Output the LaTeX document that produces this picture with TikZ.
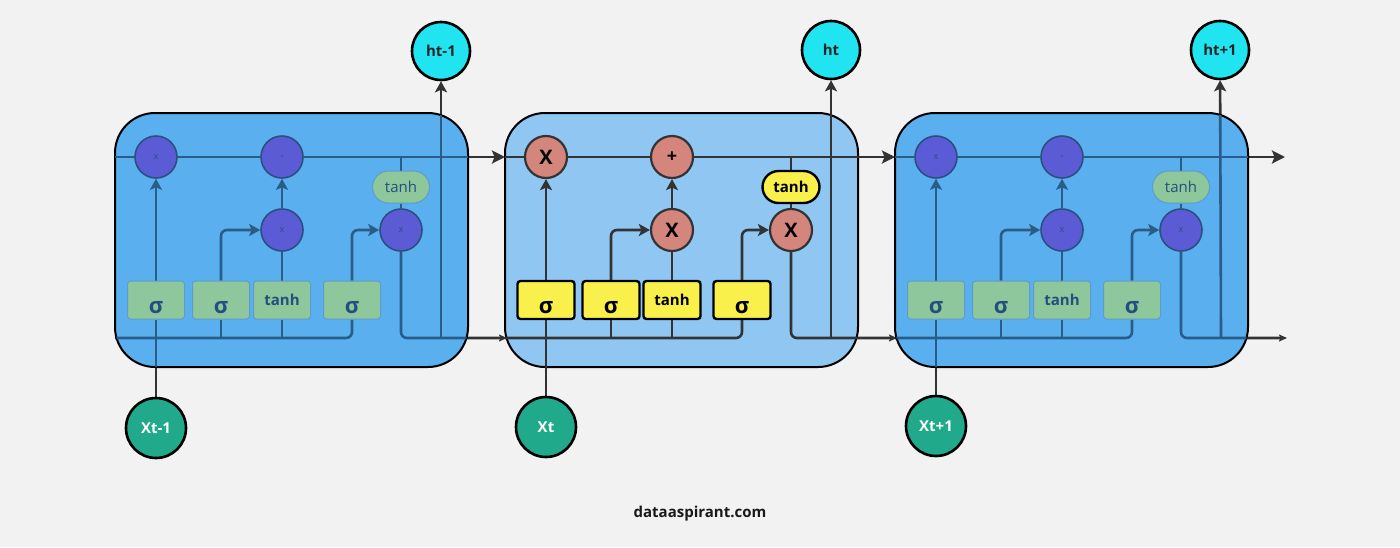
\documentclass[tikz,border=0pt]{standalone}
\usepackage{fontspec}
\setmainfont{Open Sans}
\usetikzlibrary{arrows.meta}
\definecolor{paper}{HTML}{F2F2F2}
\definecolor{dark}{HTML}{333333}
\definecolor{tint}{HTML}{2A5C88}
\definecolor{tinttext}{HTML}{23507E}
\definecolor{outblue}{HTML}{5AAFEF}
\definecolor{midblue}{HTML}{90C6F2}
\definecolor{purp}{HTML}{5C5BD6}
\definecolor{purpline}{HTML}{2B4F7E}
\definecolor{grn}{HTML}{8DC79B}
\definecolor{grnline}{HTML}{5F9CC8}
\definecolor{salmon}{HTML}{D4867D}
\definecolor{yel}{HTML}{FAF04B}
\definecolor{hcyan}{HTML}{21E4F1}
\definecolor{xteal}{HTML}{20AA8B}
\pgfdeclarelayer{back}
\pgfdeclarelayer{wires}
\pgfdeclarelayer{veil}
\pgfdeclarelayer{tint}
\pgfsetlayers{back,wires,veil,tint,main}
\tikzset{
  wire/.style={draw=#1,line width=2.6pt},
  wire/.default=dark,
  arr/.style={-{Stealth[length=11pt,width=12pt,inset=2.5pt]}},
  arrbig/.style={-{Stealth[length=13pt,width=13pt,inset=2.5pt]}},
  arrsmall/.style={-{Stealth[length=8pt,width=7pt,inset=1.5pt]}},
  cellmid/.style={fill=midblue,draw=black,line width=2pt,rounded corners=40pt},
  cellout/.style={fill=outblue,draw=black,line width=2pt,rounded corners=40pt},
  opM/.style={circle,minimum size=42pt,inner sep=0pt,fill=salmon,draw=dark,line width=2.2pt,
    text=black,font=\bfseries\fontsize{20}{20}\selectfont},
  opO/.style={circle,minimum size=42pt,inner sep=0pt,fill=purp,draw=purpline,line width=1.6pt,
    text=tinttext,font=\fontsize{9}{9}\selectfont},
  plusM/.style={font=\bfseries\fontsize{18}{18}\selectfont},
  plusO/.style={font=\fontsize{6}{6}\selectfont},
  gateM/.style={rectangle,rounded corners=3pt,minimum width=57pt,minimum height=38pt,inner sep=0pt,
    fill=yel,draw=black,line width=2.4pt,text=black,font=\bfseries\fontsize{15}{15}\selectfont},
  gateO/.style={rectangle,rounded corners=3pt,minimum width=57pt,minimum height=38pt,inner sep=0pt,
    fill=grn,draw=grnline,line width=1pt,text=tinttext,font=\bfseries\fontsize{15}{15}\selectfont},
  pillM/.style={rectangle,rounded corners=16pt,minimum width=57pt,minimum height=32pt,inner sep=0pt,
    fill=yel,draw=black,line width=2.4pt,text=black,font=\bfseries\fontsize{15}{15}\selectfont},
  pillO/.style={rectangle,rounded corners=16pt,minimum width=57pt,minimum height=32pt,inner sep=0pt,
    fill=grn,draw=grnline,line width=1pt,text=tinttext,font=\fontsize{15}{15}\selectfont},
  xin/.style={circle,minimum size=60pt,inner sep=0pt,fill=xteal,draw=black,line width=2.6pt,
    text=white,font=\bfseries\fontsize{15}{15}\selectfont},
  hout/.style={circle,minimum size=58pt,inner sep=0pt,fill=hcyan,draw=black,line width=2.6pt,
    text=black!85,font=\bfseries\fontsize{15}{15}\selectfont},
  site/.style={text=black!90,font=\bfseries\fontsize{15}{15}\selectfont}
}
\newcommand\sig{\raisebox{-8pt}[\height][\depth]{\fontsize{22}{22}\selectfont σ}}
% nodes of one cell: prefix, left edge, look, product sign
\newcommand\cellnodes[4]{%
  \begin{scope}[xshift=#2pt]
    \coordinate (#1-tl) at (0,157);
    \coordinate (#1-bl) at (0,338);
    \coordinate (#1-tr) at (390,157);
    \coordinate (#1-br) at (392,338);
    \coordinate (#1-v) at (326,338);
    \node[op#3] (#1-f) at (41,157) {#4};
    \node[op#3,plus#3] (#1-p) at (167,157) {+};
    \node[op#3] (#1-i) at (167,230) {#4};
    \node[op#3] (#1-o) at (286,230) {#4};
    \node[pill#3] (#1-th) at (286,187) {tanh};
    \node[gate#3] (#1-s1) at (41,300) {\sig};
    \node[gate#3] (#1-s2) at (106,300) {\sig};
    \node[gate#3] (#1-g) at (167,300) {tanh};
    \node[gate#3] (#1-s3) at (237,300) {\sig};
  \end{scope}}
% wiring of one cell: prefix, colour
\newcommand\cellwires[2]{%
  \draw[wire=#2] (#1-x) -- (#1-s1);
  \draw[wire=#2] (#1-tl) -- (#1-f);
  \draw[wire=#2] (#1-f) -- (#1-p);
  \draw[wire=#2,arrbig] (#1-p) -- (#1-tr);
  \draw[wire=#2] (#1-th) -- (#1-th |- #1-tl);
  \draw[wire=#2] (#1-th) -- (#1-o);
  \draw[wire=#2,arr] (#1-s1) -- (#1-f);
  \draw[wire=#2,arr] (#1-i) -- (#1-p);
  \draw[wire=#2] (#1-g) -- (#1-i);
  \draw[wire=#2,arr,rounded corners=6pt] (#1-s2.north) |- (#1-i);
  \draw[wire=#2,arr,rounded corners=6pt] (#1-s3.north) |- (#1-o);
  \draw[wire=#2,rounded corners=6pt] (#1-bl) -| (#1-s3.south);
  \draw[wire=#2] (#1-s2.south) -- (#1-s2.south |- #1-bl);
  \draw[wire=#2] (#1-g.south) -- (#1-g.south |- #1-bl);
  \draw[wire=#2,arrsmall,rounded corners=6pt] (#1-o) |- (#1-br);
  \draw[wire=#2,arr] (#1-v) -- (#1-h);}
\begin{document}
\begin{tikzpicture}[x=1pt,y=-1pt]
\begin{pgfonlayer}{back}
  \fill[paper] (0,0) rectangle (1400,547);
  \draw[cellmid] (505,113) rectangle (858,367);
\end{pgfonlayer}
\cellnodes{a}{115}{O}{x}
\cellnodes{b}{505}{M}{X}
\cellnodes{c}{895}{O}{x}
\node[xin] (a-x) at (156,428) {Xt-1};
\node[xin] (b-x) at (546,427) {Xt};
\node[xin] (c-x) at (936,426) {Xt+1};
\node[hout] (a-h) at (441,51) {ht-1};
\node[hout] (b-h) at (831,50) {ht};
\node[hout] (c-h) at (1220,50) {ht+1};
\node[site] (site) at (700,514) {dataaspirant.com};
\begin{pgfonlayer}{wires}
  \cellwires{a}{dark}
  \cellwires{b}{dark}
  \cellwires{c}{dark}
\end{pgfonlayer}
\begin{pgfonlayer}{veil}
  \draw[cellout] (115,113) rectangle (468,367);
  \draw[cellout] (895,113) rectangle (1248,367);
\end{pgfonlayer}
\begin{pgfonlayer}{tint}
  \begin{scope}
    \clip[rounded corners=40pt] (115,113) rectangle (468,367);
    \cellwires{a}{tint}
  \end{scope}
  \begin{scope}
    \clip[rounded corners=40pt] (895,113) rectangle (1248,367);
    \cellwires{c}{tint}
  \end{scope}
\end{pgfonlayer}
\end{tikzpicture}
\end{document}
